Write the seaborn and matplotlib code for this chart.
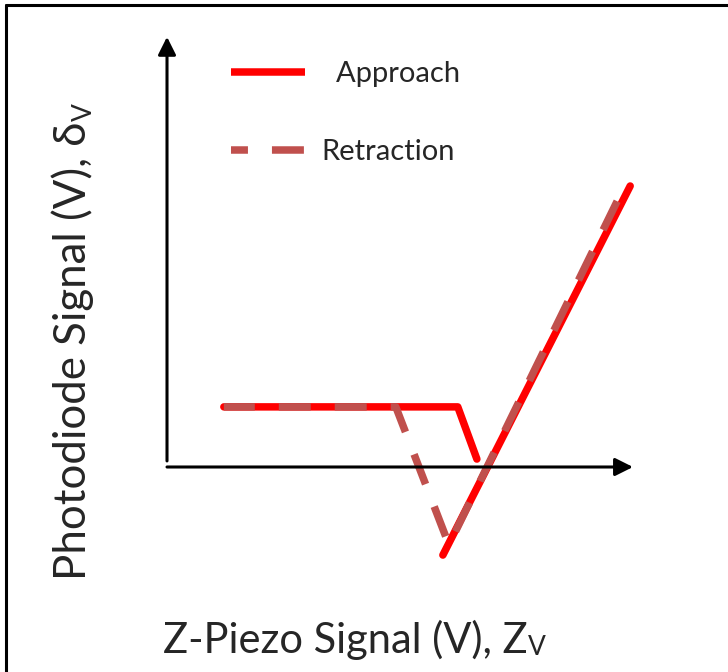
import matplotlib
matplotlib.use("Agg")
import matplotlib.pyplot as plt
from matplotlib.lines import Line2D
import numpy as np
import pandas as pd
import seaborn as sns

sns.set_style("white")
plt.rcParams["font.family"] = ["Lato", "DejaVu Sans"]

# Schematic force-distance curves (arbitrary units, origin at the axis crossing)
approach_x = [1.22, 6.24, 6.65, 5.92, 9.94]
approach_y = [1.29, 1.29, 0.17, -1.89, 6.03]
approach_seg = [0, 0, 0, 1, 1]          # snap-in jump splits the approach trace

retraction_x = [9.82, 6.05, 4.91, 1.22]
retraction_y = [6.03, -1.67, 1.29, 1.29]
retraction_seg = [0, 0, 0, 0]

series_names = ["Approach", "Retraction"]
legend_labels = ["  Approach", "Retraction"]
series_colors = {"Approach": "#FF0000", "Retraction": "#C0504D"}

x_axis_end = 10.0
y_axis_start, y_axis_end = 0.13, 9.23

x_label_main, x_label_sub = "Z-Piezo Signal (V), Z", "V"
y_label_main, y_label_sub = "Photodiode Signal (V), δ", "V"

df = pd.DataFrame({
    "x": approach_x + retraction_x,
    "y": approach_y + retraction_y,
    "curve": [series_names[0]] * len(approach_x) + [series_names[1]] * len(retraction_x),
    "segment": approach_seg + retraction_seg,
})

W, H = 728, 672
fig = plt.figure(figsize=(W / 100, H / 100), dpi=100)
ax = fig.add_axes([0, 0, 1, 1])
ax.set_axis_off()
ax.set_xlim(-3.584, 12.039)
ax.set_ylim(-4.399, 10.021)

LW = 5.4
dash = (4.26, 3.2)

# Axes drawn as arrows
arrow_kw = dict(arrowstyle="-|>", color="black", lw=2.2, mutation_scale=27,
                shrinkA=0, shrinkB=0)
ax.annotate("", xy=(x_axis_end, 0), xytext=(0, 0), arrowprops=arrow_kw)
ax.annotate("", xy=(0, y_axis_end), xytext=(0, y_axis_start), arrowprops=arrow_kw)

sns.lineplot(data=df, x="x", y="y", hue="curve", style="curve", units="segment",
             estimator=None, sort=False, palette=series_colors,
             dashes={"Approach": "", "Retraction": dash},
             linewidth=LW, legend=False, ax=ax)

# start the retraction trace with a short gap at the top end
for ln in ax.lines:
    if ln.get_linestyle() not in ("-", "solid"):
        ln.set_linestyle((5.2, dash))

handles = [
    Line2D([], [], color=series_colors["Approach"], lw=LW, solid_capstyle="butt"),
    Line2D([], [], color=series_colors["Retraction"], lw=LW, linestyle=(2.0, dash)),
]
fig.legend(handles, legend_labels, loc="center left",
           bbox_to_anchor=(231 / W, 1 - 113 / H), bbox_transform=fig.transFigure,
           frameon=False, fontsize=21, handlelength=2.54, handletextpad=0.55,
           labelspacing=1.8, borderpad=0, borderaxespad=0)

# Axis titles with subscripts
xt = fig.text(163 / W, 1 - 653 / H, x_label_main, fontsize=30,
              ha="left", va="baseline")
ax.annotate(x_label_sub, xy=(1, 0), xycoords=xt, xytext=(0.5, 0),
            textcoords="offset points", fontsize=19, ha="left", va="bottom")

yt = fig.text(73 / W, 1 - 580 / H, y_label_main, fontsize=31.5, rotation=90,
              ha="center", va="bottom")
ax.annotate(y_label_sub, xy=(1, 1), xycoords=yt, xytext=(2, 0.5),
            textcoords="offset points", fontsize=19, rotation=90,
            ha="right", va="bottom")

# Outer frame (left and top edges)
fig.add_artist(Line2D([5.5 / W, 5.5 / W], [0, 1 - 5 / H], color="black", lw=2.2,
                      transform=fig.transFigure))
fig.add_artist(Line2D([5.5 / W, 1], [1 - 5 / H, 1 - 5 / H], color="black", lw=2.2,
                      transform=fig.transFigure))

fig.savefig("out.png", dpi=100)
